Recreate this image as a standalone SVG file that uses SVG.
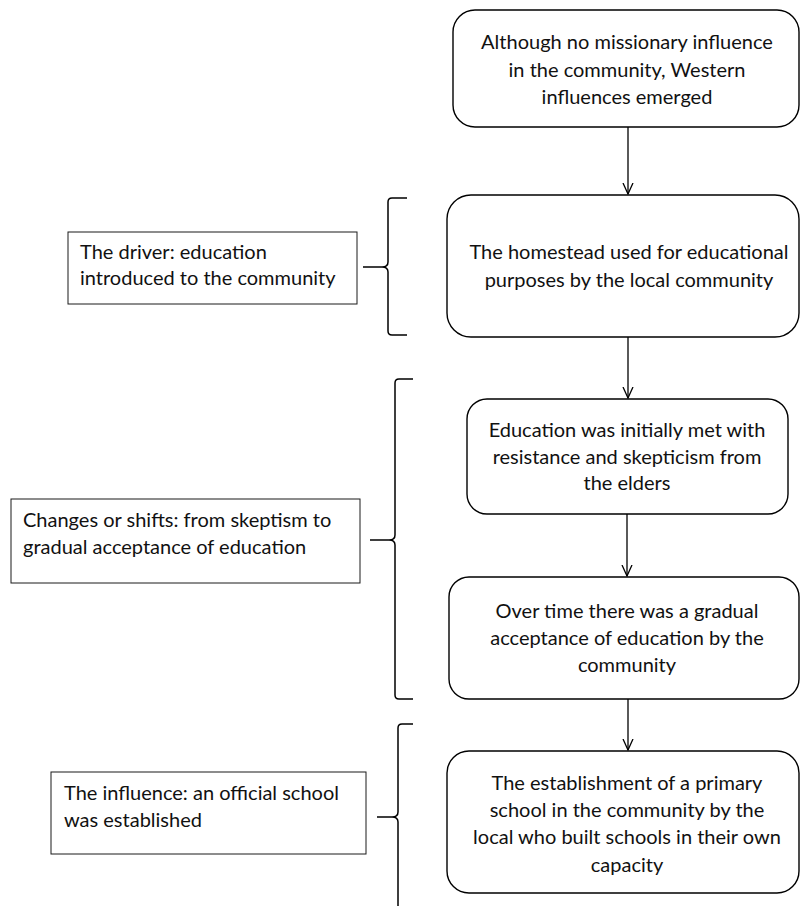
<svg xmlns="http://www.w3.org/2000/svg" width="800" height="908" viewBox="0 0 800 908">
  <defs>
    <marker id="vhead" viewBox="0 0 12 12" refX="11" refY="6" markerWidth="12" markerHeight="12" markerUnits="userSpaceOnUse" orient="auto">
      <path d="M0,1 L11,6 L0,11" fill="none" stroke="#000" stroke-width="1.3"/>
    </marker>
  </defs>
  <style>
    .step { fill: #fff; stroke: #000; stroke-width: 1.4; }
    .note { fill: #fff; stroke: #1a1a1a; stroke-width: 1; }
    .brace { fill: none; stroke: #000; stroke-width: 1.5; }
    .link { fill: none; stroke: #000; stroke-width: 1.3; }
    text { font-family: Lato, "Open Sans", "Liberation Sans", sans-serif; font-size: 20px; fill: #111; }
    .c { text-anchor: middle; }
  </style>
  <rect width="800" height="908" fill="#fff"/>

  <!-- flow connectors -->
  <g id="connectors">
    <line class="link" x1="628" y1="127" x2="628" y2="194" marker-end="url(#vhead)"/>
    <line class="link" x1="628" y1="337" x2="628" y2="398" marker-end="url(#vhead)"/>
    <line class="link" x1="627" y1="514" x2="627" y2="576" marker-end="url(#vhead)"/>
    <line class="link" x1="628" y1="699" x2="628" y2="750" marker-end="url(#vhead)"/>
  </g>

  <!-- main steps -->
  <g id="step1">
    <rect class="step" x="453" y="10" width="346" height="117" rx="22"/>
    <text class="c" x="627" y="49">Although no missionary influence</text>
    <text class="c" x="627" y="77">in the community, Western</text>
    <text class="c" x="627" y="104">influences emerged</text>
  </g>
  <g id="step2">
    <rect class="step" x="447" y="195" width="352" height="142" rx="24"/>
    <text class="c" x="629" y="259">The homestead used for educational</text>
    <text class="c" x="629" y="287">purposes by the local community</text>
  </g>
  <g id="step3">
    <rect class="step" x="467" y="399" width="321" height="115" rx="20"/>
    <text class="c" x="627" y="437">Education was initially met with</text>
    <text class="c" x="627" y="464">resistance and skepticism from</text>
    <text class="c" x="627" y="490">the elders</text>
  </g>
  <g id="step4">
    <rect class="step" x="449" y="577" width="350" height="122" rx="20"/>
    <text class="c" x="627" y="618">Over time there was a gradual</text>
    <text class="c" x="627" y="645">acceptance of education by the</text>
    <text class="c" x="627" y="672">community</text>
  </g>
  <g id="step5">
    <rect class="step" x="447" y="751" width="352" height="142" rx="22"/>
    <text class="c" x="627" y="790">The establishment of a primary</text>
    <text class="c" x="627" y="817">school in the community by the</text>
    <text class="c" x="627" y="844">local who built schools in their own</text>
    <text class="c" x="627" y="872">capacity</text>
  </g>

  <!-- braces grouping the steps -->
  <g id="brace1">
    <path class="brace" d="M407,198 L392,198 Q388,198 388,202 L388,262 Q388,267 382,267 L363,267 M382,267 Q388,267 388,272 L388,331 Q388,335 392,335 L407,335"/>
  </g>
  <g id="brace2">
    <path class="brace" d="M413,379 L399,379 Q395,379 395,383 L395,535 Q395,540 389,540 L370,540 M389,540 Q395,540 395,545 L395,695 Q395,699 399,699 L413,699"/>
  </g>
  <g id="brace3">
    <path class="brace" d="M413,724 L402,724 Q398,724 398,728 L398,812 Q398,817 392,817 L377,817 M392,817 Q398,817 398,822 L398,906"/>
  </g>

  <!-- side notes -->
  <g id="note1">
    <rect class="note" x="68" y="232" width="289" height="72"/>
    <text x="80" y="259">The driver: education</text>
    <text x="80" y="285">introduced to the community</text>
  </g>
  <g id="note2">
    <rect class="note" x="11" y="499" width="349" height="84"/>
    <text x="23" y="527">Changes or shifts: from skeptism to</text>
    <text x="23" y="554">gradual acceptance of education</text>
  </g>
  <g id="note3">
    <rect class="note" x="51" y="772" width="315" height="82"/>
    <text x="64" y="800">The influence: an official school</text>
    <text x="64" y="827">was established</text>
  </g>
</svg>
